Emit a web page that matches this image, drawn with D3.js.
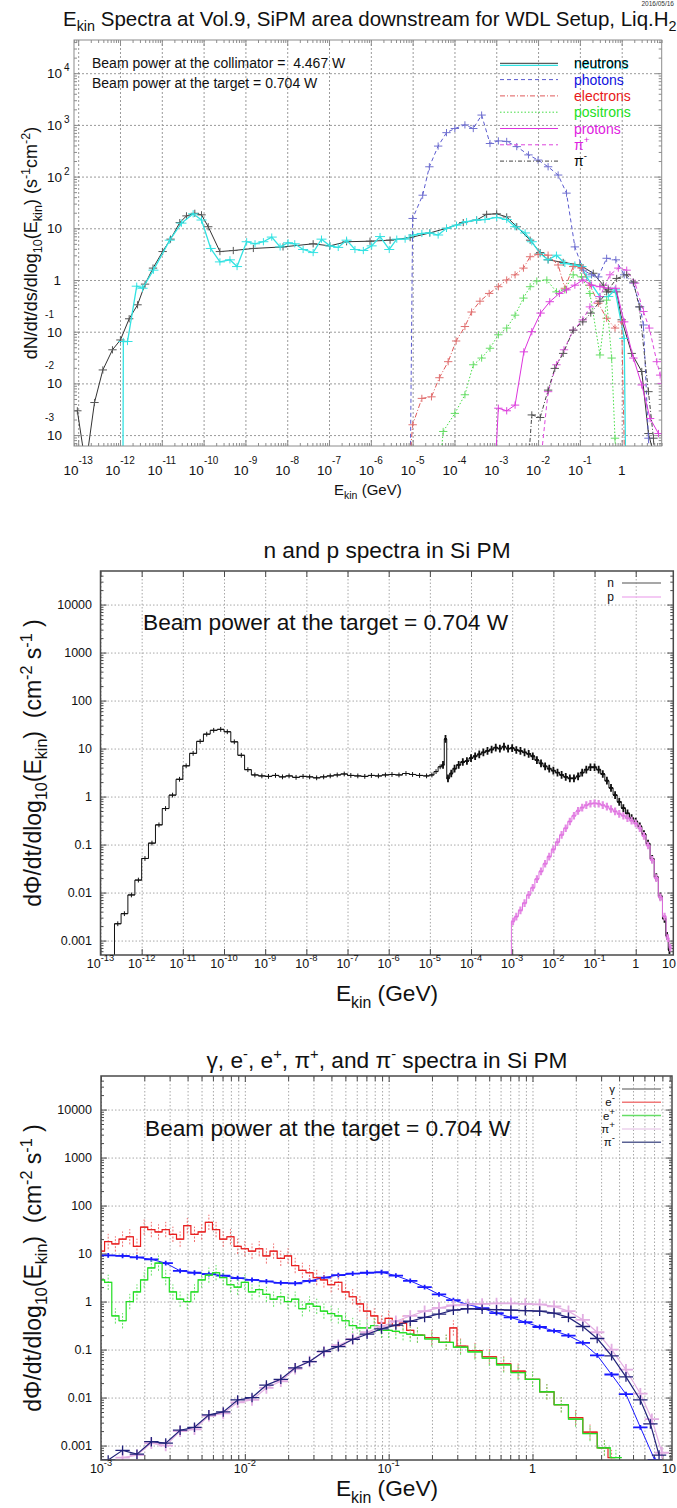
<!DOCTYPE html>
<html lang="en">
<head>
<meta charset="UTF-8">
<title>Ekin spectra in Si PM</title>
<script src="https://d3js.org/d3.v7.min.js"></script>
<style>
  body { margin: 0; background: #fff; }
  svg { display: block; font-family: "Liberation Sans", Arial, Helvetica, sans-serif; }
  text { white-space: pre; }
</style>
</head>
<body>
<script>
// all series: log10(E / GeV) and log10(rate)

// ---- panel 1 : Vol.9, SiPM area downstream ----
const nBlkE = [-13.02, -12.82, -12.61, -12.41, -12.18, -11.99, -11.78, -11.58, -11.40, -11.21, -10.98, -10.79, -10.57, -10.41, -10.21, -10.05, -9.89, -9.61, -9.29, -8.81, -8.10, -7.38, -6.98, -6.58, -6.02, -5.54, -5.06, -4.59, -4.19, -3.79, -3.47, -3.23, -2.99, -2.75, -2.51, -2.19, -1.95, -1.76, -1.40, -1.00, -0.68, -0.44, -0.36, -0.12, 0.00, 0.24, 0.48, 0.64, 0.84];
const nBlkV = [-2.53, -3.60, -2.37, -1.74, -1.35, -1.16, -0.75, -0.48, -0.08, 0.23, 0.55, 0.79, 1.11, 1.24, 1.29, 1.26, 1.03, 0.55, 0.57, 0.61, 0.64, 0.70, 0.66, 0.74, 0.75, 0.77, 0.82, 0.91, 1.00, 1.11, 1.16, 1.27, 1.28, 1.22, 1.03, 0.77, 0.53, 0.39, 0.34, 0.29, 0.13, -0.10, -0.23, -0.23, -0.77, -1.42, -1.77, -2.97, -3.60];
const nCyaE = [-11.93, -11.92, -11.82, -11.60, -11.46, -11.20, -10.81, -10.53, -10.25, -10.05, -9.83, -9.61, -9.37, -9.20, -8.97, -8.77, -8.57, -8.37, -8.17, -7.98, -7.82, -7.62, -7.38, -7.18, -6.98, -6.78, -6.58, -6.38, -6.18, -5.98, -5.78, -5.56, -5.38, -5.18, -4.99, -4.78, -4.59, -4.39, -4.19, -3.95, -3.71, -3.47, -3.27, -2.99, -2.75, -2.55, -2.31, -2.15, -1.95, -1.76, -1.56, -1.36, -1.12, -0.96, -0.84, -0.52, -0.32, -0.16, 0.06, 0.10];
const nCyaV = [-4.00, -1.19, -1.19, -0.12, -0.16, 0.19, 0.77, 1.10, 1.28, 1.16, 0.61, 0.35, 0.39, 0.26, 0.74, 0.70, 0.74, 0.83, 0.64, 0.72, 0.70, 0.59, 0.53, 0.79, 0.66, 0.63, 0.77, 0.59, 0.57, 0.66, 0.84, 0.59, 0.79, 0.79, 0.87, 0.90, 0.91, 0.87, 1.00, 1.06, 1.13, 1.16, 1.17, 1.21, 1.17, 1.03, 0.91, 0.74, 0.51, 0.39, 0.48, 0.32, 0.29, 0.26, 0.06, -0.32, -0.32, -0.19, -1.13, -4.00];
const phoE = [-5.06, -5.00, -4.76, -4.60, -4.39, -4.19, -3.99, -3.75, -3.55, -3.35, -3.15, -2.95, -2.75, -2.51, -2.23, -2.00, -1.76, -1.52, -1.32, -1.12, -0.92, -0.72, -0.56, -0.36, -0.14, 0.06, 0.28, 0.44, 0.52, 0.64, 0.70];
const phoV = [-4.00, 1.19, 1.64, 2.19, 2.59, 2.85, 2.93, 3.00, 2.93, 3.19, 2.64, 2.69, 2.68, 2.58, 2.42, 2.32, 2.19, 2.03, 1.68, 0.64, 0.19, 0.10, 0.06, 0.42, 0.39, 0.10, -0.06, -0.52, -0.87, -3.06, -4.00];
const eleE = [-5.12, -5.00, -4.78, -4.55, -4.36, -4.15, -3.96, -3.75, -3.59, -3.39, -3.17, -2.95, -2.75, -2.55, -2.35, -2.19, -2.00, -1.76, -1.52, -1.36, -1.16, -0.96, -0.76, -0.56, -0.36, -0.16, 0.00, 0.08];
const eleV = [-4.00, -2.80, -2.29, -2.26, -1.89, -1.58, -1.18, -0.90, -0.62, -0.41, -0.26, -0.13, 0.00, 0.10, 0.23, 0.45, 0.50, 0.48, 0.29, -0.16, 0.26, 0.23, -0.10, -0.45, -0.74, -0.93, -0.81, -4.00];
const posE = [-4.39, -4.27, -3.99, -3.75, -3.55, -3.35, -3.15, -2.95, -2.75, -2.55, -2.35, -2.19, -2.03, -1.79, -1.56, -1.36, -1.16, -0.96, -0.76, -0.52, -0.36, -0.24, -0.16, -0.10];
const posV = [-4.00, -2.93, -2.58, -2.22, -1.64, -1.51, -1.32, -1.06, -0.93, -0.68, -0.35, -0.13, -0.02, 0.00, -0.23, -0.19, 0.10, 0.06, -0.26, -1.45, -0.39, -1.51, -3.06, -4.00];
const proE = [-3.05, -2.95, -2.75, -2.55, -2.34, -2.15, -1.94, -1.72, -1.49, -1.32, -1.12, -0.93, -0.72, -0.52, -0.32, -0.14, 0.06, 0.28, 0.48, 0.68, 0.88, 0.96];
const proV = [-4.00, -2.48, -2.53, -2.42, -1.39, -1.00, -0.64, -0.42, -0.26, -0.19, -0.10, 0.00, -0.10, -0.13, -0.16, -0.16, -0.81, -1.51, -2.03, -2.68, -2.97, -2.97];
const pipE = [-2.00, -1.76, -1.56, -1.38, -1.16, -0.93, -0.76, -0.52, -0.28, -0.08, 0.12, 0.32, 0.52, 0.66, 0.84, 0.92, 0.96];
const pipV = [-4.00, -2.16, -1.64, -1.35, -0.97, -0.77, -0.52, -0.32, 0.10, 0.23, 0.19, -0.06, -0.61, -0.93, -1.58, -1.84, -2.00];
const pimE = [-2.27, -2.15, -1.95, -1.76, -1.60, -1.40, -1.16, -0.93, -0.74, -0.52, -0.32, -0.12, 0.12, 0.28, 0.42, 0.64, 0.76, 0.82];
const pimV = [-4.00, -2.61, -2.66, -2.13, -1.71, -1.42, -0.97, -0.81, -0.64, -0.41, -0.19, 0.03, 0.10, -0.04, -0.52, -2.16, -3.06, -4.00];

// ---- panel 2 : n and p in Si PM ----
const n2E = [-12.58, -12.42, -12.25, -12.08, -11.92, -11.75, -11.58, -11.42, -11.25, -11.08,
  -10.92, -10.75, -10.58, -10.42, -10.25, -10.08, -9.92, -9.75, -9.58, -9.42,
  -9.25, -9.08, -8.92, -8.75, -8.58, -8.42, -8.25, -8.08, -7.92, -7.75,
  -7.58, -7.42, -7.25, -7.08, -6.92, -6.75, -6.58, -6.42, -6.25, -6.08,
  -5.92, -5.75, -5.58, -5.42, -5.25, -5.08,
  -4.95, -4.85, -4.75, -4.68, -4.62, -4.56, -4.48, -4.40, -4.30, -4.20,
  -4.10, -4.00, -3.90, -3.80, -3.70, -3.60, -3.50, -3.40, -3.30, -3.20,
  -3.10, -3.00, -2.90, -2.80, -2.70, -2.60, -2.50, -2.40, -2.30, -2.20,
  -2.10, -2.00, -1.90, -1.80, -1.70, -1.60, -1.50, -1.40, -1.30, -1.20,
  -1.10, -1.00, -0.90, -0.80, -0.70, -0.60, -0.50, -0.40, -0.30, -0.20,
  -0.10, 0.00, 0.10, 0.20, 0.30, 0.40, 0.50, 0.60, 0.70, 0.76, 0.82];
const n2V = [-2.65, -2.44, -2.05, -1.74, -1.29, -0.97, -0.59, -0.25, 0.03, 0.36,
  0.64, 0.90, 1.15, 1.30, 1.38, 1.40, 1.35, 1.14, 0.86, 0.56,
  0.45, 0.43, 0.42, 0.44, 0.41, 0.43, 0.40, 0.42, 0.41, 0.39,
  0.41, 0.43, 0.45, 0.47, 0.44, 0.43, 0.42, 0.44, 0.43, 0.45,
  0.46, 0.45, 0.48, 0.46, 0.44, 0.43,
  0.45, 0.52, 0.62, 0.66, 1.20, 0.38, 0.48, 0.58, 0.66, 0.72,
  0.74, 0.80, 0.84, 0.88, 0.92, 0.95, 0.98, 1.02, 1.00, 1.04,
  1.00, 1.01, 0.97, 0.95, 0.92, 0.89, 0.84, 0.76, 0.69, 0.63,
  0.58, 0.54, 0.50, 0.45, 0.41, 0.38, 0.38, 0.42, 0.50, 0.56,
  0.61, 0.61, 0.56, 0.47, 0.33, 0.18, 0.03, -0.11, -0.24, -0.35,
  -0.45, -0.52, -0.62, -0.78, -0.98, -1.30, -1.68, -2.08, -2.55, -2.90, -3.20];
const p2E = [-2.98, -2.90, -2.80, -2.70, -2.60, -2.50, -2.40, -2.30, -2.20, -2.10,
  -2.00, -1.90, -1.80, -1.70, -1.60, -1.50, -1.40, -1.30, -1.20, -1.10,
  -1.00, -0.90, -0.80, -0.70, -0.60, -0.50, -0.40, -0.30, -0.20, -0.10,
  0.00, 0.10, 0.20, 0.30, 0.40, 0.50, 0.60, 0.70, 0.78, 0.84];
const p2V = [-2.60, -2.50, -2.37, -2.22, -2.05, -1.90, -1.72, -1.56, -1.40, -1.25,
  -1.10, -0.95, -0.80, -0.66, -0.52, -0.40, -0.30, -0.23, -0.18, -0.15,
  -0.14, -0.15, -0.18, -0.21, -0.26, -0.31, -0.36, -0.40, -0.45, -0.50,
  -0.56, -0.66, -0.82, -1.02, -1.32, -1.70, -2.10, -2.50, -2.95, -3.15];

// ---- panel 3 : gamma, e-, e+, pi+, pi- in Si PM ----
const gamE = [-2.95, -2.85, -2.75, -2.65, -2.55, -2.45, -2.35, -2.25, -2.15, -2.05,
  -1.95, -1.85, -1.75, -1.65, -1.55, -1.45, -1.35, -1.25, -1.15, -1.05,
  -0.95, -0.85, -0.75, -0.65, -0.55, -0.45, -0.35, -0.25, -0.15, -0.05,
  0.05, 0.15, 0.25, 0.35, 0.45, 0.55, 0.65, 0.75, 0.85];
const gamV = [0.96, 0.95, 0.92, 0.88, 0.80, 0.64, 0.60, 0.57, 0.54, 0.49,
  0.45, 0.42, 0.39, 0.38, 0.43, 0.50, 0.55, 0.58, 0.60, 0.61,
  0.54, 0.43, 0.30, 0.15, 0.03, -0.06, -0.14, -0.24, -0.33, -0.43,
  -0.53, -0.61, -0.71, -0.86, -1.12, -1.52, -1.93, -2.62, -3.30];
const emE = [-3.00, -2.95, -2.90, -2.85, -2.80, -2.75, -2.70, -2.65, -2.60, -2.55,
  -2.50, -2.45, -2.40, -2.35, -2.30, -2.25, -2.20, -2.15, -2.10, -2.05,
  -2.00, -1.95, -1.90, -1.85, -1.80, -1.75, -1.70, -1.65, -1.60, -1.55,
  -1.50, -1.45, -1.40, -1.35, -1.30, -1.25, -1.20, -1.15, -1.10, -1.05,
  -1.00, -0.95, -0.90, -0.85, -0.80,
  -0.70, -0.60, -0.55, -0.50, -0.40, -0.30, -0.20, -0.10, 0.00, 0.10, 0.20, 0.30, 0.40, 0.50, 0.55];
const emV = [1.05, 1.25, 1.20, 1.30, 1.35, 1.15, 1.55, 1.50, 1.45, 1.50,
  1.40, 1.30, 1.58, 1.40, 1.45, 1.65, 1.50, 1.30, 1.35, 1.15,
  1.10, 1.05, 1.10, 0.95, 1.05, 0.90, 0.95, 0.75, 0.65, 0.60,
  0.50, 0.45, 0.35, 0.40, 0.20, 0.10, -0.05, -0.20, -0.30, -0.45,
  -0.35, -0.50, -0.45, -0.60, -0.70,
  -0.75, -0.85, -0.55, -0.93, -1.02, -1.15, -1.30, -1.45, -1.62, -1.88, -2.15, -2.42, -2.72, -3.05, -3.25];
const epE = [-3.00, -2.95, -2.90, -2.85, -2.80, -2.75, -2.70, -2.65, -2.60, -2.55,
  -2.50, -2.45, -2.40, -2.35, -2.30, -2.25, -2.20, -2.15, -2.10, -2.05,
  -2.00, -1.95, -1.90, -1.85, -1.80, -1.75, -1.70, -1.65, -1.60, -1.55,
  -1.50, -1.45, -1.40, -1.35, -1.30, -1.25, -1.20, -1.15, -1.10, -1.05,
  -1.00, -0.95, -0.90, -0.85, -0.80,
  -0.70, -0.60, -0.50, -0.40, -0.30, -0.20, -0.10, 0.00, 0.10, 0.20, 0.30, 0.40, 0.50, 0.58];
const epV = [0.45, 0.40, -0.30, -0.40, 0.00, 0.20, 0.45, 0.70, 0.80, 0.50,
  0.20, 0.05, 0.00, 0.20, 0.45, 0.55, 0.60, 0.50, 0.35, 0.30,
  0.40, 0.20, 0.25, 0.15, 0.05, 0.10, 0.00, 0.05, -0.15, -0.05,
  -0.10, -0.20, -0.25, -0.30, -0.40, -0.50, -0.55, -0.55, -0.50, -0.60,
  -0.60, -0.62, -0.65, -0.68, -0.70,
  -0.78, -0.85, -0.95, -1.05, -1.18, -1.32, -1.48, -1.62, -1.88, -2.15, -2.45, -2.75, -3.05, -3.25];
const pip3E = [-2.85, -2.75, -2.65, -2.55, -2.45, -2.35, -2.25, -2.15, -2.05, -1.95,
  -1.85, -1.75, -1.65, -1.55, -1.45, -1.35, -1.25, -1.15, -1.05, -0.95,
  -0.85, -0.75, -0.65, -0.55, -0.45, -0.35, -0.25, -0.15, -0.05, 0.05,
  0.15, 0.25, 0.35, 0.45, 0.55, 0.65, 0.75, 0.83, 0.90];
const pip3V = [-3.25, -3.20, -2.95, -3.00, -2.70, -2.66, -2.38, -2.33, -2.10, -2.05,
  -1.80, -1.66, -1.40, -1.25, -1.05, -0.91, -0.78, -0.64, -0.52, -0.41,
  -0.30, -0.20, -0.13, -0.08, -0.06, -0.05, -0.04, -0.04, -0.05, -0.06,
  -0.10, -0.20, -0.38, -0.64, -1.00, -1.42, -1.92, -2.45, -3.15];
const pim3E = [-2.95, -2.85, -2.75, -2.65, -2.55, -2.45, -2.35, -2.25, -2.15, -2.05,
  -1.95, -1.85, -1.75, -1.65, -1.55, -1.45, -1.35, -1.25, -1.15, -1.05,
  -0.95, -0.85, -0.75, -0.65, -0.55, -0.45, -0.35, -0.25, -0.15, -0.05,
  0.05, 0.15, 0.25, 0.35, 0.45, 0.55, 0.65, 0.75, 0.82, 0.88];
const pim3V = [-3.30, -3.10, -3.18, -2.92, -2.95, -2.68, -2.62, -2.36, -2.30, -2.05,
  -2.00, -1.74, -1.62, -1.38, -1.25, -1.04, -0.94, -0.79, -0.68, -0.57,
  -0.49, -0.41, -0.33, -0.26, -0.18, -0.15, -0.16, -0.17, -0.18, -0.19,
  -0.20, -0.24, -0.33, -0.52, -0.77, -1.13, -1.57, -2.05, -2.55, -3.20];

// ---- tick labels ----
const p1XExp = [-13, -12, -11, -10, -9, -8, -7, -6, -5, -4, -3, -2, -1, 0];
const p1YExp = [-3, -2, -1, 0, 1, 2, 3, 4];
const p23YLabels = ["0.001", "0.01", "0.1", "1", "10", "100", "1000", "10000"];
const p2XLabels = ["10^{-13}", "10^{-12}", "10^{-11}", "10^{-10}", "10^{-9}", "10^{-8}", "10^{-7}", "10^{-6}", "10^{-5}", "10^{-4}", "10^{-3}", "10^{-2}", "10^{-1}", "1", "10"];
const p3XLabels = ["10^{-3}", "10^{-2}", "10^{-1}", "1", "10"];

const P = v => Math.pow(10, v);
const svg = d3.select("body").append("svg").attr("width", 677).attr("height", 1508);
const defs = svg.append("defs");
svg.append("rect").attr("width", 677).attr("height", 1508).attr("fill", "#fff");

// text with ^{..} and _{..}
function rich(t, str, size, o = {}) {
  const sc = o.scale || 0.7;
  const sup = o.sup != null ? o.sup : size * 0.4;
  const sub = o.sub != null ? o.sub : size * 0.25;
  const re = /([\^_])\{([^}]*)\}/g;
  let last = 0, shift = 0, m;
  const add = (s, fs, target) => {
    if (!s) return;
    t.append("tspan").attr("font-size", fs).attr("dy", target - shift).text(s);
    shift = target;
  };
  while ((m = re.exec(str)) !== null) {
    add(str.slice(last, m.index), size, 0);
    add(m[2], size * sc, m[1] === "^" ? -sup : sub);
    last = re.lastIndex;
  }
  add(str.slice(last), size, 0);
  return t;
}

function majors(dom) {
  const a = Math.log10(dom[0]), b = Math.log10(dom[1]), r = [];
  for (let k = Math.ceil(a - 1e-9); k <= Math.floor(b + 1e-9); k++) r.push(P(k));
  return r;
}
function minors(dom) {
  const a = Math.log10(dom[0]), b = Math.log10(dom[1]), r = [];
  for (let k = Math.floor(a); k <= Math.ceil(b); k++)
    for (let m = 2; m < 10; m++) {
      const l = k + Math.log10(m);
      if (l > a && l < b) r.push(m * P(k));
    }
  return r;
}

function makePanel(o) {
  const x = d3.scaleLog().domain(o.xDomain).range([o.left, o.right]);
  const y = d3.scaleLog().domain(o.yDomain).range([o.bottom, o.top]);
  const g = svg.append("g");
  const w = o.right - o.left, h = o.bottom - o.top;
  defs.append("clipPath").attr("id", o.id).append("rect")
    .attr("x", o.left).attr("y", o.top).attr("width", w).attr("height", h);
  const xMaj = majors(o.xDomain), xMin = minors(o.xDomain);
  const yMaj = majors(o.yDomain), yMin = minors(o.yDomain);

  const grid = g.append("g");
  grid.append("g").attr("transform", `translate(0,${o.bottom})`)
    .call(d3.axisBottom(x).tickValues(o.xMinorGrid ? xMaj.concat(xMin) : xMaj).tickSize(-h).tickFormat(""));
  grid.append("g").attr("transform", `translate(${o.left},0)`)
    .call(d3.axisLeft(y).tickValues(yMaj).tickSize(-w).tickFormat(""));
  grid.selectAll("path").remove();
  grid.selectAll("line").attr("stroke", o.grid).attr("stroke-dasharray", o.gridDash).attr("stroke-width", 1);

  const tk = g.append("g");
  const list = [
    [d3.axisBottom, x, `translate(0,${o.bottom})`, xMaj, o.xTick],
    [d3.axisTop, x, `translate(0,${o.top})`, xMaj, o.xTick],
    [d3.axisLeft, y, `translate(${o.left},0)`, yMaj, o.yTick],
    [d3.axisRight, y, `translate(${o.right},0)`, yMaj, o.yTick],
    [d3.axisLeft, y, `translate(${o.left},0)`, yMin, o.yMinorTick],
    [d3.axisRight, y, `translate(${o.right},0)`, yMin, o.yMinorTick]
  ];
  if (o.xMinorTick) {
    list.push([d3.axisBottom, x, `translate(0,${o.bottom})`, xMin, o.xMinorTick]);
    list.push([d3.axisTop, x, `translate(0,${o.top})`, xMin, o.xMinorTick]);
  }
  list.forEach(([fn, sc, tr, vals, len]) => {
    tk.append("g").attr("transform", tr).call(fn(sc).tickValues(vals).tickSize(-len).tickFormat(""));
  });
  tk.selectAll("path").remove();
  tk.selectAll("line").attr("stroke", o.frame);

  const data = g.append("g").attr("clip-path", `url(#${o.id})`);
  g.append("rect").attr("x", o.left).attr("y", o.top).attr("width", w).attr("height", h)
    .attr("fill", "none").attr("stroke", o.frame).attr("stroke-width", o.frameW);
  return { x, y, g, data };
}

function polyline(p, E, V, o) {
  const line = d3.line().x(d => p.x(P(d[0]))).y(d => p.y(P(d[1])));
  p.data.append("path").datum(d3.zip(E, V)).attr("d", line)
    .attr("fill", "none").attr("stroke", o.color).attr("stroke-width", o.width || 1)
    .attr("stroke-dasharray", o.dash || null);
}

function steps(p, E, V, o) {
  const n = E.length;
  const edges = E.map((e, i) => i === 0 ? e - (E[1] - E[0]) / 2 : (E[i - 1] + e) / 2);
  edges.push(E[n - 1] + (E[n - 1] - E[n - 2]) / 2);
  let d = `M${p.x(P(edges[0]))},${p.y.range()[0] + 2}`;
  V.forEach((v, i) => { d += `V${p.y(P(v))}H${p.x(P(edges[i + 1]))}`; });
  p.data.append("path").attr("d", d).attr("fill", "none")
    .attr("stroke", o.color).attr("stroke-width", o.width || 1);
}

function crosses(p, E, V, o) {
  const lo = Math.log10(p.y.domain()[0]);
  let dh = "", dv = "";
  E.forEach((e, i) => {
    const v = V[i];
    if (v < lo - 0.2) return;
    if (o.from != null && e < o.from) return;
    let hw = o.hw;
    if (hw == null) {
      const a = i === 0 ? E[1] - E[0] : E[i] - E[i - 1];
      const b = i === E.length - 1 ? E[i] - E[i - 1] : E[i + 1] - E[i];
      hw = (a + b) / 4;
    }
    const yy = p.y(P(v));
    dh += `M${p.x(P(e - hw))},${yy}H${p.x(P(e + hw))}`;
    dv += `M${p.x(P(e))},${p.y(P(v - o.err))}V${p.y(P(v + o.err))}`;
  });
  p.data.append("path").attr("d", dh).attr("fill", "none")
    .attr("stroke", o.color).attr("stroke-width", o.width || 1);
  p.data.append("path").attr("d", dv).attr("fill", "none")
    .attr("stroke", o.errColor || o.color).attr("stroke-width", o.width || 1)
    .attr("stroke-dasharray", o.errDash || null);
}

// ================= panel 1 =================
const p1 = makePanel({
  id: "c1", left: 74, right: 661.7, top: 40, bottom: 446,
  xDomain: [P(-13.1), P(0.957)], yDomain: [P(-3.211), P(4.642)],
  frame: "#8c8c8c", frameW: 1, grid: "#9a9a9a", gridDash: "2,2",
  xTick: 6, xMinorTick: 3, yTick: 6, yMinorTick: 3
});

const p1Series = [
  { E: nBlkE, V: nBlkV, color: "#333", cross: "#555", hw: 0.1 },
  { E: nCyaE, V: nCyaV, color: "#33e2e2", cross: "#33e2e2", hw: 0.12, width: 1.3 },
  { E: phoE, V: phoV, color: "#5a5acf", cross: "#7070d0", hw: 0.1, dash: "4,3" },
  { E: eleE, V: eleV, color: "#e05a5a", cross: "#e07070", hw: 0.1, dash: "5,2,1,2" },
  { E: posE, V: posV, color: "#44dd44", cross: "#66dd66", hw: 0.1, dash: "1.5,2" },
  { E: proE, V: proV, color: "#dd33dd", cross: "#dd44dd", hw: 0.1 },
  { E: pipE, V: pipV, color: "#dd44dd", cross: "#dd55dd", hw: 0.1, dash: "4,3" },
  { E: pimE, V: pimV, color: "#444", cross: "#555", hw: 0.1, dash: "4,2,1,2" }
];
p1Series.forEach(s => {
  polyline(p1, s.E, s.V, { color: s.color, width: s.width || 1, dash: s.dash });
  crosses(p1, s.E, s.V, { color: s.cross, hw: s.hw, err: 0.07, width: 1 });
});

// axis labels panel 1
p1XExp.forEach(k => {
  const t = p1.g.append("text").attr("x", p1.x(P(k))).attr("y", 475)
    .attr("text-anchor", "middle").attr("fill", "#111");
  if (k === 0) t.attr("font-size", 13.5).text("1");
  else rich(t, `10^{${k}}`, 13.5, { scale: 0.74, sup: 11 });
});
p1YExp.forEach(k => {
  const yy = p1.y(P(k));
  p1.g.append("text").attr("x", k === 0 ? 61 : 62).attr("y", yy + 5).attr("text-anchor", "end")
    .attr("font-size", 13.5).attr("fill", "#111").text(k === 0 ? "1" : "10");
  if (k >= 2) p1.g.append("text").attr("x", 64).attr("y", yy - 2).attr("font-size", 10).attr("fill", "#111").text(k);
  if (k < 0) p1.g.append("text").attr("x", 54).attr("y", yy - 14).attr("text-anchor", "end")
    .attr("font-size", 10).attr("fill", "#111").text(k);
});
rich(svg.append("text").attr("x", 63).attr("y", 26).attr("fill", "#111"),
  "E_{kin} Spectra at Vol.9, SiPM area downstream for WDL Setup, Liq.H_{2}", 20.5, { sub: 5 });
svg.append("text").attr("x", 674).attr("y", 5.6).attr("text-anchor", "end")
  .attr("font-size", 6.5).attr("fill", "#333").text("2016/05/16");
rich(svg.append("text").attr("x", (74 + 661.7) / 2).attr("y", 495).attr("text-anchor", "middle").attr("fill", "#111"),
  "E_{kin} (GeV)", 15, { sub: 4 });
rich(svg.append("text").attr("transform", "translate(37,243) rotate(-90)").attr("text-anchor", "middle").attr("fill", "#111"),
  "dN/dt/ds/dlog_{10}(E_{kin}) (s^{-1}cm^{-2})", 18, { sub: 4.5, sup: 7 });
svg.append("text").attr("x", 92).attr("y", 68.3).attr("font-size", 14).attr("fill", "#111")
  .text("Beam power at the collimator =  4.467 W");
svg.append("text").attr("x", 92).attr("y", 88.3).attr("font-size", 14).attr("fill", "#111")
  .text("Beam power at the target = 0.704 W");

// legend panel 1
const p1Legend = [
  { label: "neutrons", text: "#000", idx: 0 },
  { label: "photons", text: "#1010e0", idx: 2 },
  { label: "electrons", text: "#e81818", idx: 3 },
  { label: "positrons", text: "#22e022", idx: 4 },
  { label: "protons", text: "#e020e0", idx: 5 },
  { label: "π^{+}", text: "#e020e0", idx: 6 },
  { label: "π^{-}", text: "#000", idx: 7 }
];
p1Legend.forEach((L, i) => {
  const by = 68.3 + i * 16.3;
  const s = p1Series[L.idx];
  if (i === 0) {
    svg.append("line").attr("x1", 500).attr("x2", 558).attr("y1", by - 3).attr("y2", by - 3)
      .attr("stroke", p1Series[1].color).attr("stroke-width", 1.3);
    svg.append("text").attr("x", 574).attr("y", by + 1).attr("font-size", 14).attr("fill", "#33e2e2").text(L.label);
  }
  svg.append("line").attr("x1", 500).attr("x2", 558).attr("y1", by - 5).attr("y2", by - 5)
    .attr("stroke", s.color).attr("stroke-width", 1).attr("stroke-dasharray", s.dash || null);
  rich(svg.append("text").attr("x", 574).attr("y", by).attr("fill", L.text), L.label, 14, { sup: 7 });
});

// ================= panel 2 =================
const p2 = makePanel({
  id: "c2", left: 100.5, right: 673.3, top: 571, bottom: 955,
  xDomain: [1e-13, P(0.913)], yDomain: [5e-4, 5e4],
  frame: "#4a4a4a", frameW: 1.5, grid: "#a8a8a8", gridDash: "1.5,2",
  xTick: 6, yTick: 6, yMinorTick: 3
});
steps(p2, n2E, n2V, { color: "#111", width: 1 });
crosses(p2, n2E, n2V, { color: "#111", err: 0.05, width: 1 });
crosses(p2, n2E, n2V, { color: "#111", err: 0.08, width: 1.8, from: -4.7 });
crosses(p2, p2E, p2V, { color: "#e48ae4", err: 0.08, width: 2.2 });
steps(p2, p2E, p2V, { color: "#e070e0", width: 1 });

// the last decade label sits at the right edge: keep it inside the page
function edgeLabel(sel, xPos) {
  return xPos > 670 ? sel.attr("x", 676).attr("text-anchor", "end") : sel.attr("x", xPos).attr("text-anchor", "middle");
}
[-13, -12, -11, -10, -9, -8, -7, -6, -5, -4, -3, -2, -1, 0, 1].forEach((k, i) => {
  rich(edgeLabel(p2.g.append("text").attr("y", 968).attr("fill", "#111"), p2.x(P(k))),
    p2XLabels[i], 12.5, { scale: 0.75, sup: 7 });
});
p23YLabels.forEach((s, i) => {
  p2.g.append("text").attr("x", 92).attr("y", p2.y(P(i - 3)) + 4.5).attr("text-anchor", "end")
    .attr("font-size", 12.5).attr("fill", "#111").text(s);
});
svg.append("text").attr("x", 387).attr("y", 558).attr("text-anchor", "middle")
  .attr("font-size", 22.7).attr("fill", "#111").text("n and p spectra in Si PM");
svg.append("text").attr("x", 143).attr("y", 630).attr("font-size", 22.7).attr("fill", "#111")
  .text("Beam power at the target = 0.704 W");
rich(svg.append("text").attr("x", 387).attr("y", 1001).attr("text-anchor", "middle").attr("fill", "#111"),
  "E_{kin} (GeV)", 22.7, { sub: 7 });
rich(svg.append("text").attr("transform", "translate(41,763) rotate(-90)").attr("text-anchor", "middle").attr("fill", "#111"),
  "dΦ/dt/dlog_{10}(E_{kin})  (cm^{-2} s^{-1} )", 23, { sub: 6, sup: 9 });
[["n", "#8a8a8a"], ["p", "#f0b8f0"]].forEach(([lab, col], i) => {
  const ly = 583 + i * 14;
  svg.append("text").attr("x", 614).attr("y", ly + 4).attr("text-anchor", "end")
    .attr("font-size", 12).attr("fill", "#111").text(lab);
  svg.append("line").attr("x1", 622).attr("x2", 661).attr("y1", ly).attr("y2", ly)
    .attr("stroke", col).attr("stroke-width", 1.5);
});

// ================= panel 3 =================
const p3 = makePanel({
  id: "c3", left: 101, right: 672, top: 1076, bottom: 1460,
  xDomain: [1e-3, P(0.97)], yDomain: [5e-4, 5e4],
  frame: "#4a4a4a", frameW: 1.5, grid: "#a8a8a8", gridDash: "1.5,2", xMinorGrid: true,
  xTick: 6, xMinorTick: 5, yTick: 6, yMinorTick: 3
});
polyline(p3, gamE, gamV, { color: "#1a1aff", width: 1 });
crosses(p3, gamE, gamV, { color: "#1a1aff", err: 0.05, width: 1.8, hw: 0.05 });
crosses(p3, emE, emV, { color: "#e82020", err: 0.16, width: 1, errColor: "#f07070", errDash: "2,1.5" });
steps(p3, emE, emV, { color: "#e82020", width: 1.2 });
crosses(p3, epE, epV, { color: "#22dd22", err: 0.16, width: 1, errColor: "#66e066", errDash: "2,1.5" });
steps(p3, epE, epV, { color: "#22dd22", width: 1.2 });
polyline(p3, pip3E, pip3V, { color: "#e2aee2", width: 1.2 });
crosses(p3, pip3E, pip3V, { color: "#e2aee2", err: 0.12, width: 1.8, hw: 0.05 });
polyline(p3, pim3E, pim3V, { color: "#22227a", width: 1.2 });
crosses(p3, pim3E, pim3V, { color: "#22227a", err: 0.1, width: 1.3, hw: 0.05 });

[-3, -2, -1, 0, 1].forEach((k, i) => {
  rich(edgeLabel(p3.g.append("text").attr("y", 1473).attr("fill", "#111"), p3.x(P(k))),
    p3XLabels[i], 12.5, { scale: 0.75, sup: 7 });
});
p23YLabels.forEach((s, i) => {
  p3.g.append("text").attr("x", 92).attr("y", p3.y(P(i - 3)) + 4.5).attr("text-anchor", "end")
    .attr("font-size", 12.5).attr("fill", "#111").text(s);
});
rich(svg.append("text").attr("x", 387).attr("y", 1068).attr("text-anchor", "middle").attr("fill", "#111"),
  "γ, e^{-}, e^{+}, π^{+}, and π^{-} spectra in Si PM", 22.7, { sup: 9, scale: 0.65 });
svg.append("text").attr("x", 145).attr("y", 1136).attr("font-size", 22.7).attr("fill", "#111")
  .text("Beam power at the target = 0.704 W");
rich(svg.append("text").attr("x", 387).attr("y", 1496).attr("text-anchor", "middle").attr("fill", "#111"),
  "E_{kin} (GeV)", 22.7, { sub: 7 });
rich(svg.append("text").attr("transform", "translate(41,1268) rotate(-90)").attr("text-anchor", "middle").attr("fill", "#111"),
  "dΦ/dt/dlog_{10}(E_{kin})  (cm^{-2} s^{-1} )", 23, { sub: 6, sup: 9 });
[["γ", "#8a8a8a"], ["e^{-}", "#f07878"], ["e^{+}", "#66dd66"], ["π^{+}", "#ecd2ec"], ["π^{-}", "#5a6294"]].forEach(([lab, col], i) => {
  const ly = 1089 + i * 13.3;
  rich(svg.append("text").attr("x", 615).attr("y", ly + 4).attr("text-anchor", "end").attr("fill", "#111"),
    lab, 11.5, { sup: 5, scale: 0.85 });
  svg.append("line").attr("x1", 622).attr("x2", 661).attr("y1", ly).attr("y2", ly)
    .attr("stroke", col).attr("stroke-width", 1.5);
});
</script>
</body>
</html>
